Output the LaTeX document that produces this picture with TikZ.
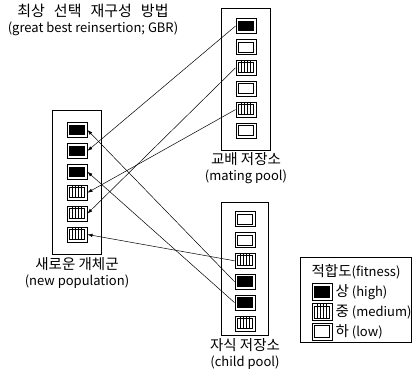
\documentclass[tikz,border=0pt]{standalone}
\usepackage{fontspec}
\setmainfont{Noto Sans CJK KR}
\usetikzlibrary{arrows.meta, positioning}
\newcommand{\krfont}{\fontsize{14.5}{16}\selectfont}

\begin{document}
\begin{tikzpicture}[x=1pt, y=-1pt,
  node distance=5pt,
  cell/.style={rectangle, draw, line width=0.9pt, minimum width=20pt, minimum height=15pt, inner sep=0pt},
  hicell/.style={cell, path picture={
      \fill ([shift={(2.2pt,2.2pt)}]path picture bounding box.south west)
        rectangle ([shift={(-2.2pt,-2.2pt)}]path picture bounding box.north east);}},
  locell/.style={cell, path picture={
      \draw[line width=0.7pt] ([shift={(2.5pt,2.5pt)}]path picture bounding box.south west)
        rectangle ([shift={(-2.5pt,-2.5pt)}]path picture bounding box.north east);}},
  midcell/.style={cell, path picture={
      \draw[line width=0.7pt] ([shift={(2.5pt,2.5pt)}]path picture bounding box.south west)
        rectangle ([shift={(-2.5pt,-2.5pt)}]path picture bounding box.north east);
      \foreach \dx in {5.5,8.5,11.5,14.5}
        \draw[line width=0.7pt] ([shift={(\dx pt,2.5pt)}]path picture bounding box.south west) -- ++(0pt,14pt);}},
  pool/.style={line width=0.8pt},
  lbl/.style={font=\fontsize{13}{16}\selectfont, align=center, inner sep=1pt},
  arr/.style={-{Latex[length=5pt, width=3.5pt]}, line width=0.5pt}
]
  \useasboundingbox (0,0) rectangle (413,373);

  % Title
  \node[lbl] (title) at (93,20) {{\fontsize{15}{16}\selectfont 최상\hspace{0.6em}선택\hspace{0.6em}재구성\hspace{0.6em}방법}\\(great best reinsertion; GBR)};

  % Mating pool
  \node[hicell] (m1) at (246,26) {};
  \node[locell, below=of m1] (m2) {};
  \node[midcell, below=of m2] (m3) {};
  \node[locell, below=of m3] (m4) {};
  \node[midcell, below=of m4] (m5) {};
  \node[locell, below=of m5] (m6) {};
  \draw[pool] ([shift={(-14pt,10pt)}]m1.north west) rectangle ([shift={(14pt,-12pt)}]m6.south east);
  \node[lbl, below=13pt of m6] (mlbl) {{\krfont 교배 저장소}\\(mating pool)};

  % New population
  \node[hicell] (n1) at (77,130) {};
  \node[hicell, below=of n1] (n2) {};
  \node[hicell, below=of n2] (n3) {};
  \node[midcell, below=of n3] (n4) {};
  \node[midcell, below=of n4] (n5) {};
  \node[midcell, below=of n5] (n6) {};
  \draw[pool] ([shift={(-14pt,12pt)}]n1.north west) rectangle ([shift={(14pt,-12pt)}]n6.south east);
  \node[lbl, below=14pt of n6] (nlbl) {{\krfont 새로운 개체군}\\(new population)};

  % Child pool
  \node[locell] (c1) at (245,219) {};
  \node[locell, below=of c1] (c2) {};
  \node[midcell, below=of c2] (c3) {};
  \node[hicell, below=of c3] (c4) {};
  \node[hicell, below=of c4] (c5) {};
  \node[midcell, below=of c5] (c6) {};
  \draw[pool] ([shift={(-13pt,9pt)}]c1.north west) rectangle ([shift={(13pt,-4pt)}]c6.south east);
  \node[lbl, below=6pt of c6] (clbl) {{\krfont 자식 저장소}\\(child pool)};

  % Legend
  \draw[pool] (300,257) rectangle (411,342);
  \node[lbl] (ltitle) at (356,272) {{\krfont 적합도}(fitness)};
  \node[hicell, minimum height=17pt] (lhi) at (322,292) {};
  \node[midcell, minimum height=17pt, below=2pt of lhi] (lmid) {};
  \node[locell, minimum height=17pt, below=2pt of lmid] (llo) {};
  \node[lbl, right=2pt of lhi] {{\krfont 상} (high)};
  \node[lbl, right=2pt of lmid] {{\krfont 중} (medium)};
  \node[lbl, right=2pt of llo] {{\krfont 하} (low)};

  % Arrows
  \draw[arr] (m1.west) -- (n2.east);
  \draw[arr] (m3.west) -- (n5.east);
  \draw[arr] (m5.west) -- (n4.east);
  \draw[arr] (c3.west) -- (n6.east);
  \draw[arr] (c4.west) -- (n1.east);
  \draw[arr] (c5.west) -- (n3.east);
\end{tikzpicture}
\end{document}
